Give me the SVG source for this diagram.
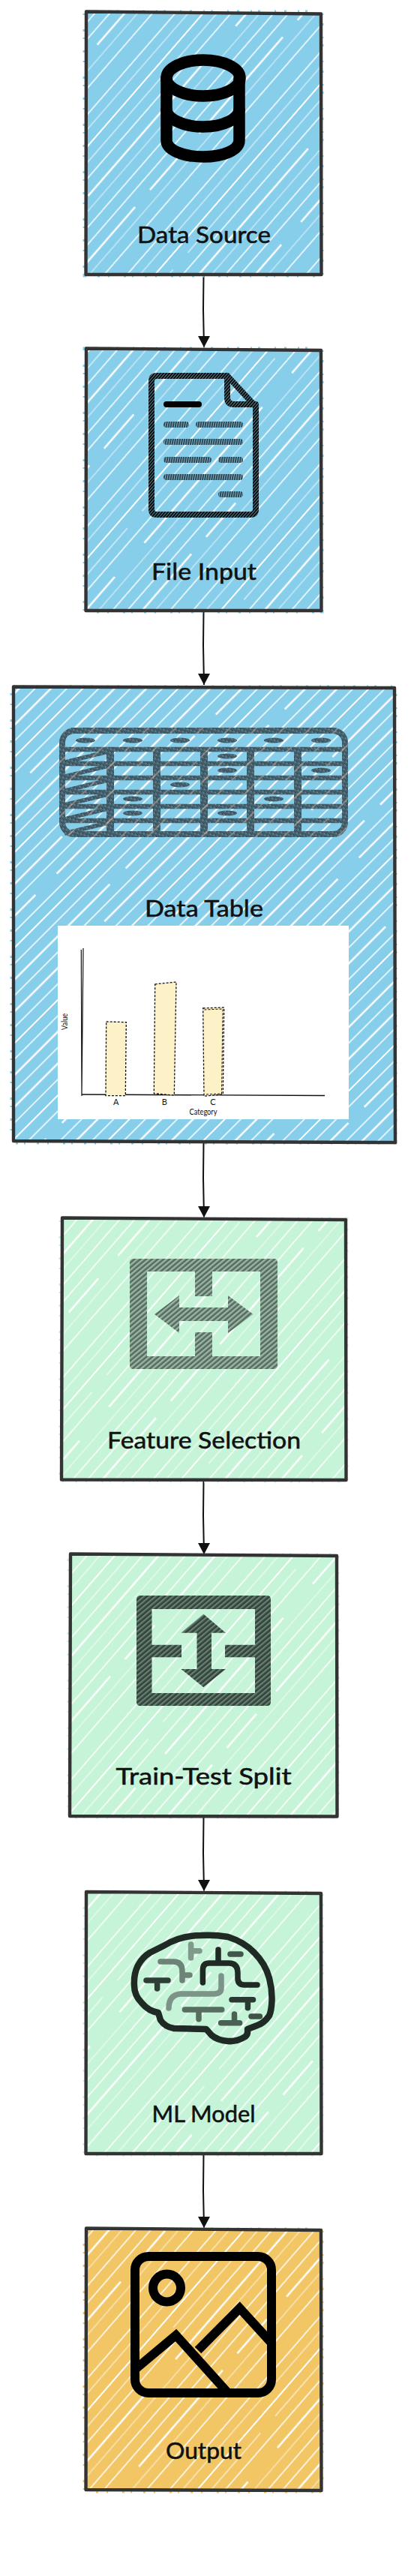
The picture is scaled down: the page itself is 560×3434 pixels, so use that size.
<svg xmlns="http://www.w3.org/2000/svg" width="560" height="3434" viewBox="0 0 560 3434">
<style>
.lbl{font-family:"Lato","Noto Sans",sans-serif;font-size:31px;font-weight:400;fill:#111;stroke:#111;stroke-width:.55;text-anchor:middle}
.sm{font-family:"Lato","Noto Sans",sans-serif;font-size:11px;fill:#111;text-anchor:middle}
.bd{fill:none;stroke:#333;stroke-width:4.4;stroke-linejoin:round}
.tick{fill:none;stroke-width:7;stroke-dasharray:2 11 3 15 2 8 3 19}
.blue{fill:#87ceeb}.green{fill:#c6f4d8}.orange{fill:#f2c664}
.blue-t{stroke:#87ceeb}.green-t{stroke:#c6f4d8}.orange-t{stroke:#f2c664}
.ln{fill:none;stroke-linecap:round;stroke-linejoin:round}
.conn{fill:none;stroke:#111;stroke-width:2;marker-end:url(#ah)}
.bar{fill:#fdf1c7;stroke:#111;stroke-width:1.3;stroke-dasharray:3 2}
</style>
<defs>
<marker id="ah" markerUnits="userSpaceOnUse" markerWidth="17" markerHeight="16" refX="8" refY="15" orient="0"><path d="M0 0H16L8 15Z" fill="#111"/></marker>
<pattern id="hatch" patternUnits="userSpaceOnUse" width="300" height="180" patternTransform="rotate(-49)">
<g stroke="#fff" fill="none">
<path d="M0 8H300" stroke-width="1.6"/><path d="M0 21H300" stroke-width=".9"/><path d="M0 36H300" stroke-width="2.1"/>
<path d="M0 50H180M210 50H300" stroke-width="1"/><path d="M0 64H300" stroke-width="1.6"/><path d="M0 80H120M180 80H300" stroke-width="2.5"/>
<path d="M0 93H300" stroke-width=".8"/><path d="M0 107H300" stroke-width="1.7"/><path d="M0 122H300" stroke-width="1.3"/>
<path d="M40 137H210M240 137H300" stroke-width="2.3"/><path d="M0 150H300" stroke-width=".8"/><path d="M0 165H300" stroke-width="1.5"/>
</g></pattern>
<pattern id="hatch3" patternUnits="userSpaceOnUse" width="300" height="90" patternTransform="rotate(-45)">
<g stroke="#fff" fill="none">
<path d="M0 7H300" stroke-width="2"/><path d="M0 22H300" stroke-width="1.4"/><path d="M0 37H170M200 37H300" stroke-width="2.7"/>
<path d="M0 52H300" stroke-width="1.5"/><path d="M0 67H90M130 67H300" stroke-width="2.3"/><path d="M0 82H300" stroke-width="1.4"/>
</g></pattern>
<pattern id="fh" patternUnits="userSpaceOnUse" width="3" height="3" patternTransform="rotate(-49)">
<rect width="3" height="3" fill="#0b0b0b"/><rect y="0" width="3" height=".8" fill="#87ceeb" fill-opacity=".75"/>
</pattern>
<pattern id="fh2" patternUnits="userSpaceOnUse" width="3" height="3" patternTransform="rotate(-80)">
<rect width="3" height="3" fill="#2c3f48"/><rect y="0" width="3" height="1.1" fill="#87ceeb" fill-opacity=".85"/>
</pattern>
<pattern id="noise" patternUnits="userSpaceOnUse" width="5" height="5" patternTransform="rotate(17)">
<rect width="5" height="5" fill="#4a6875"/><rect x="0" y="0" width="1.2" height="1.2" fill="#1f2f38"/><rect x="3" y="1" width="1.2" height="1.2" fill="#7b98a5"/><rect x="1" y="3" width="1.2" height="1.2" fill="#2a3c46"/><rect x="3.6" y="3.6" width="1.2" height="1.2" fill="#243641"/>
</pattern>
<pattern id="streak" patternUnits="userSpaceOnUse" width="100" height="51" patternTransform="rotate(-45)">
<path d="M0 10H100M0 36H100" stroke="#c9ad9c" stroke-width="1.2" fill="none"/>
</pattern>
<pattern id="gh1" patternUnits="userSpaceOnUse" width="7" height="5" patternTransform="rotate(-40)">
<rect width="7" height="5" fill="#7f9a8b"/><rect y=".5" width="7" height="1.3" fill="#3f5448"/><rect y="3.2" width="7" height=".7" fill="#b9cfc2"/>
</pattern>
<pattern id="gh2" patternUnits="userSpaceOnUse" width="7" height="5" patternTransform="rotate(-40)">
<rect width="7" height="5" fill="#4e6358"/><rect y=".5" width="7" height="1.5" fill="#2a3a32"/><rect y="3.4" width="7" height=".6" fill="#8fa89a"/>
</pattern>
<g id="grid">
<rect x="83" y="974" width="377" height="138" rx="16" stroke-width="8" fill="none"/>
<path d="M83 999H460M83 1018H460M83 1037H460M83 1056H460M83 1075H460M83 1094H460" stroke-width="6.5" fill="none"/>
<path d="M147 999V1112M209 999V1112M272 999V1112M334 999V1112M397 999V1112" stroke-width="10" fill="none"/>
<path d="M87 1016L144 1002M87 1035L144 1021M87 1054L144 1040M86 1073L144 1059M86 1092L144 1078M86 1111L144 1097" stroke-width="5.5" fill="none"/>
</g>
</defs>
<rect width="560" height="3434" fill="#fff"/>

<g id="connectors">
<path class="conn" d="M271.5 366L271 412L272 463"/>
<path class="conn" d="M271.5 815L271 860L272 913"/>
<path class="conn" d="M271.5 1523L271 1570L272 1623"/>
<path class="conn" d="M271.5 1973L271 2020L272 2072"/>
<path class="conn" d="M271.5 2422L271 2470L272 2521"/>
<path class="conn" d="M271.5 2871L271 2920L272 2970"/>
</g>

<g id="data-source">
<rect class="tick blue-t" x="114" y="17" width="314" height="349"/>
<rect class="blue" x="114" y="17" width="314" height="349"/>
<rect x="114" y="17" width="314" height="349" fill="url(#hatch)"/>
<path class="bd" d="M115 15.500L428 18.500L428.500 366L114.500 366Z"/>
<g class="ln" stroke="#000" stroke-width="15.500">
<ellipse cx="271" cy="104" rx="49" ry="24"/>
<path d="M222 104V187C222 200 244 209 271 209C298 209 319 200 319 187V104"/>
<path d="M222 146C222 158 244 169 271 169C298 169 319 158 319 146"/>
</g>
<text class="lbl" x="272" y="324" textLength="178" lengthAdjust="spacingAndGlyphs">Data Source</text>
</g>

<g id="file-input">
<rect class="tick blue-t" x="114" y="466" width="314" height="348"/>
<rect class="blue" x="114" y="466" width="314" height="348"/>
<rect x="114" y="466" width="314" height="348" fill="url(#hatch)"/>
<path class="bd" d="M115 464.500L428 467L428.500 814L114.500 814Z"/>
<g class="ln" stroke="url(#fh)" stroke-width="8">
<path d="M303 501H209Q202 501 202 508V679Q202 686 209 686H334Q341 686 341 679V542L303 501V530Q303 539 312 539H341"/>
<path d="M222 566H248M265 566H320M222 589H320M222 613H278M295 613H320M222 636H320M295 659H320" stroke="url(#fh2)"/>
<path d="M222 539H265" stroke="#000"/>
</g>
<text class="lbl" x="272" y="773" textLength="140" lengthAdjust="spacingAndGlyphs">File Input</text>
</g>

<g id="data-table">
<rect class="tick blue-t" x="17" y="917" width="509" height="605"/>
<rect class="blue" x="17" y="917" width="509" height="605"/>
<rect x="17" y="917" width="509" height="605" fill="url(#hatch3)"/>
<path class="bd" d="M18 915.500L526 917L527 1523L18 1521Z"/>
<use href="#grid" stroke="url(#noise)"/>
<use href="#grid" stroke="url(#streak)"/>
<g fill="url(#noise)">
<ellipse cx="114" cy="987" rx="13" ry="3.500"/><ellipse cx="177" cy="987" rx="13" ry="3.500"/><ellipse cx="240" cy="987" rx="13" ry="3.500"/><ellipse cx="303" cy="987" rx="13" ry="3.500"/><ellipse cx="365" cy="987" rx="13" ry="3.500"/><ellipse cx="428" cy="987" rx="13" ry="3.500"/>
<ellipse cx="303" cy="1008" rx="13" ry="3.500"/><ellipse cx="303" cy="1027" rx="13" ry="3.500"/><ellipse cx="428" cy="1027" rx="13" ry="3.500"/><ellipse cx="240" cy="1046" rx="13" ry="3.500"/><ellipse cx="177" cy="1065" rx="13" ry="3.500"/><ellipse cx="365" cy="1065" rx="13" ry="3.500"/><ellipse cx="177" cy="1084" rx="13" ry="3.500"/><ellipse cx="303" cy="1084" rx="13" ry="3.500"/>
</g>
<text class="lbl" x="272" y="1222" textLength="158" lengthAdjust="spacingAndGlyphs">Data Table</text>
<rect x="77" y="1234" width="388" height="258" fill="#fff"/>
<g id="chart">
<path d="M111 1264L109 1461M108.300 1266L109 1461" stroke="#111" stroke-width="1.200" fill="none"/>
<path d="M109 1459L433 1460.500" stroke="#111" stroke-width="1.400" fill="none"/>
<path class="bar" d="M141.700 1362L168.300 1362.700L167.300 1460.700L141 1460.700Z"/>
<path class="bar" d="M206.700 1312L235 1309L232.300 1460L205.300 1457.700Z"/>
<path class="bar" d="M270.700 1344L298.700 1343L297.300 1458.700L272 1461.300Z"/>
<path d="M272.500 1346L297 1345L295.500 1458L273.500 1459" fill="none" stroke="#111" stroke-width="1" stroke-dasharray="3 2"/>
<text class="sm" x="154.700" y="1473">A</text>
<text class="sm" x="219.300" y="1473">B</text>
<text class="sm" x="284" y="1473">C</text>
<text class="sm" x="271" y="1486" textLength="37" lengthAdjust="spacingAndGlyphs">Category</text>
<text class="sm" transform="translate(90 1362) rotate(-90)" textLength="22" lengthAdjust="spacingAndGlyphs">Value</text>
</g>
</g>

<g id="feature-selection">
<rect class="tick green-t" x="82" y="1626" width="379" height="347"/>
<rect class="green" x="82" y="1626" width="379" height="347"/>
<rect x="82" y="1626" width="379" height="347" fill="url(#hatch)"/>
<path class="bd" d="M83 1623.500L461 1626L461.500 1973L82 1972.500Z"/>
<path fill="url(#gh1)" fill-rule="evenodd" d="M178 1678H365Q370 1678 370 1683V1820Q370 1825 365 1825H178Q173 1825 173 1820V1683Q173 1678 178 1678ZM196 1695V1808H260V1776H283V1808H347V1695H283V1728H260V1695Z"/>
<path fill="url(#gh1)" d="M206 1752L239 1727V1743H304V1727L337.500 1752L304 1777V1761H239V1777Z"/>
<text class="lbl" x="272" y="1930.700" textLength="258" lengthAdjust="spacingAndGlyphs">Feature Selection</text>
</g>

<g id="train-test-split">
<rect class="tick green-t" x="93" y="2074" width="356" height="347"/>
<rect class="green" x="93" y="2074" width="356" height="347"/>
<rect x="93" y="2074" width="356" height="347" fill="url(#hatch)"/>
<path class="bd" d="M94 2071.500L449 2074L449.500 2421.500L93 2421Z"/>
<path fill="url(#gh2)" fill-rule="evenodd" d="M187 2127H356Q361 2127 361 2132V2269Q361 2274 356 2274H187Q182 2274 182 2269V2132Q182 2127 187 2127ZM202.500 2145V2192.700H242V2209.300H202.500V2257H340V2209.300H300V2192.700H340V2145Z"/>
<path fill="url(#gh2)" d="M271.400 2151.700L301 2176.700H282V2225H301L271.400 2249.300L241.400 2225H262.500V2176.700H241.400Z"/>
<text class="lbl" x="271.500" y="2379.300" textLength="234" lengthAdjust="spacingAndGlyphs">Train-Test Split</text>
</g>

<g id="ml-model">
<rect class="tick green-t" x="114" y="2524" width="314" height="347"/>
<rect class="green" x="114" y="2524" width="314" height="347"/>
<rect x="114" y="2524" width="314" height="347" fill="url(#hatch)"/>
<path class="bd" d="M115 2522L428 2524L428.500 2871L114.500 2871Z"/>
<path class="ln" stroke="#1f2a25" stroke-width="8.500" d="M218 2594Q240 2580 268 2580Q286 2579 304 2582Q326 2589 339 2603Q354 2618 359 2637Q363 2652 362.500 2667Q362 2680 359 2687Q352 2697 343 2700L330 2705Q331 2712 327 2715Q316 2722 304 2721Q290 2720 282 2713L275 2705L232 2704Q220 2702 214 2693L211 2683Q198 2681 189 2670Q179 2660 179 2647Q178 2632 184 2620Q190 2609 200 2603L218 2594"/>
<g class="ln" stroke-width="7.500">
<path stroke="#1f2a25" d="M270.400 2643V2626Q270.400 2617 279 2617H305Q317 2617 317 2630V2637Q317 2646 326 2646H343M291 2599V2617"/>
<path stroke="#42554b" d="M307 2605H321"/>
<path stroke="#2f3f38" d="M195 2640H224M209.600 2640V2651"/>
<path stroke="#2a3a32" d="M309 2665.700H337.500M330.400 2665.700V2676.700"/>
<path stroke="#6d8377" d="M214 2615H231Q243 2615 243 2628V2640M243 2633H253"/>
<path stroke="#7f9a8b" d="M254.600 2592V2610M254.600 2600.700H266"/>
<path stroke="#7c9488" d="M295 2634V2650Q295 2658 285 2658H240Q225 2660 225 2677"/>
<path stroke="#566d60" d="M246.400 2679H295.700M265 2679V2691.700"/>
<path stroke="#4a6055" d="M294.600 2696.700H319.600M312.500 2685V2696.700"/>
<path stroke="#3f5248" d="M335 2688H346.400"/>
</g>
<text class="lbl" x="271.500" y="2829" textLength="138" lengthAdjust="spacingAndGlyphs">ML Model</text>
</g>

<g id="output">
<rect class="tick orange-t" x="114" y="2973" width="314" height="347"/>
<rect class="orange" x="114" y="2973" width="314" height="347"/>
<rect x="114" y="2973" width="314" height="347" fill="url(#hatch)"/>
<path class="bd" d="M115 2970.500L428 2973L428.500 3320L114.500 3319Z"/>
<g fill="none" stroke="#000" stroke-width="12">
<rect x="180" y="3008" width="182" height="182" rx="18"/>
<circle cx="222.500" cy="3050" r="18.500"/>
<path d="M182 3157L234.600 3113L304 3190M264 3133L319.600 3077L362.500 3124"/>
</g>
<text class="lbl" x="271.500" y="3277.700" textLength="101" lengthAdjust="spacingAndGlyphs">Output</text>
</g>
</svg>
